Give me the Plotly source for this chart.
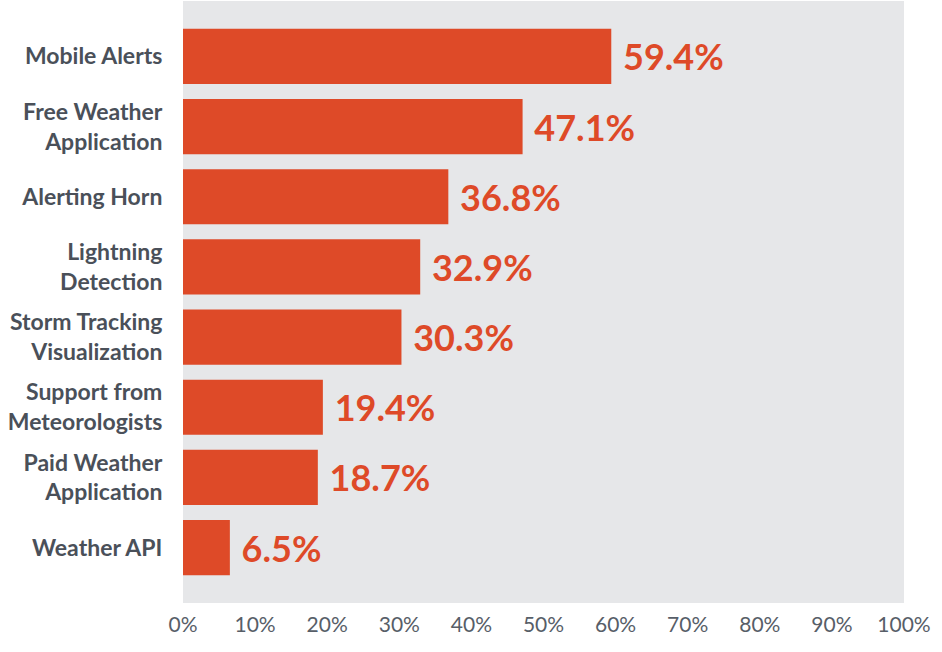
import plotly.graph_objects as go

categories = [
    "Mobile Alerts",
    "Free Weather<br>Application",
    "Alerting Horn",
    "Lightning<br>Detection",
    "Storm Tracking<br>Visualization",
    "Support from<br>Meteorologists",
    "Paid Weather<br>Application",
    "Weather API",
]
values = [59.4, 47.1, 36.8, 32.9, 30.3, 19.4, 18.7, 6.5]
tick_vals = [0, 10, 20, 30, 40, 50, 60, 70, 80, 90, 100]
tick_text = [f"{v}%" for v in tick_vals]

BAR = "#de4a28"
FONT = "Lato"

fig = go.Figure(
    go.Bar(
        x=values,
        y=categories,
        orientation="h",
        marker=dict(color=BAR, line=dict(width=0)),
        text=[f" {v:.1f}%" for v in values],
        textposition="outside",
        textfont=dict(family=FONT, size=36, color=BAR, weight="bold"),
        cliponaxis=False,
        width=0.786,
        hoverinfo="skip",
    )
)

fig.update_layout(
    width=942,
    height=652,
    margin=dict(l=183, r=38, t=1, b=49),
    plot_bgcolor="#e6e7e9",
    paper_bgcolor="white",
    showlegend=False,
    xaxis=dict(
        range=[0, 100],
        tickvals=tick_vals,
        ticktext=tick_text,
        showgrid=False,
        zeroline=False,
        tickfont=dict(family=FONT, size=21, color="#575e68"),
        ticks="outside",
        ticklen=3,
        tickcolor="rgba(0,0,0,0)",
        fixedrange=True,
    ),
    yaxis=dict(
        categoryorder="array",
        categoryarray=categories,
        autorange=False,
        range=[7.79, -0.79],
        showgrid=False,
        zeroline=False,
        ticks="outside",
        ticklen=15,
        tickcolor="rgba(0,0,0,0)",
        tickfont=dict(family=FONT, size=23, color="#4a5059", weight="bold"),
        fixedrange=True,
    ),
)

fig.write_html(
    "out.html",
    config={"displayModeBar": False},
    post_script="document.body.style.margin='0';",
)
